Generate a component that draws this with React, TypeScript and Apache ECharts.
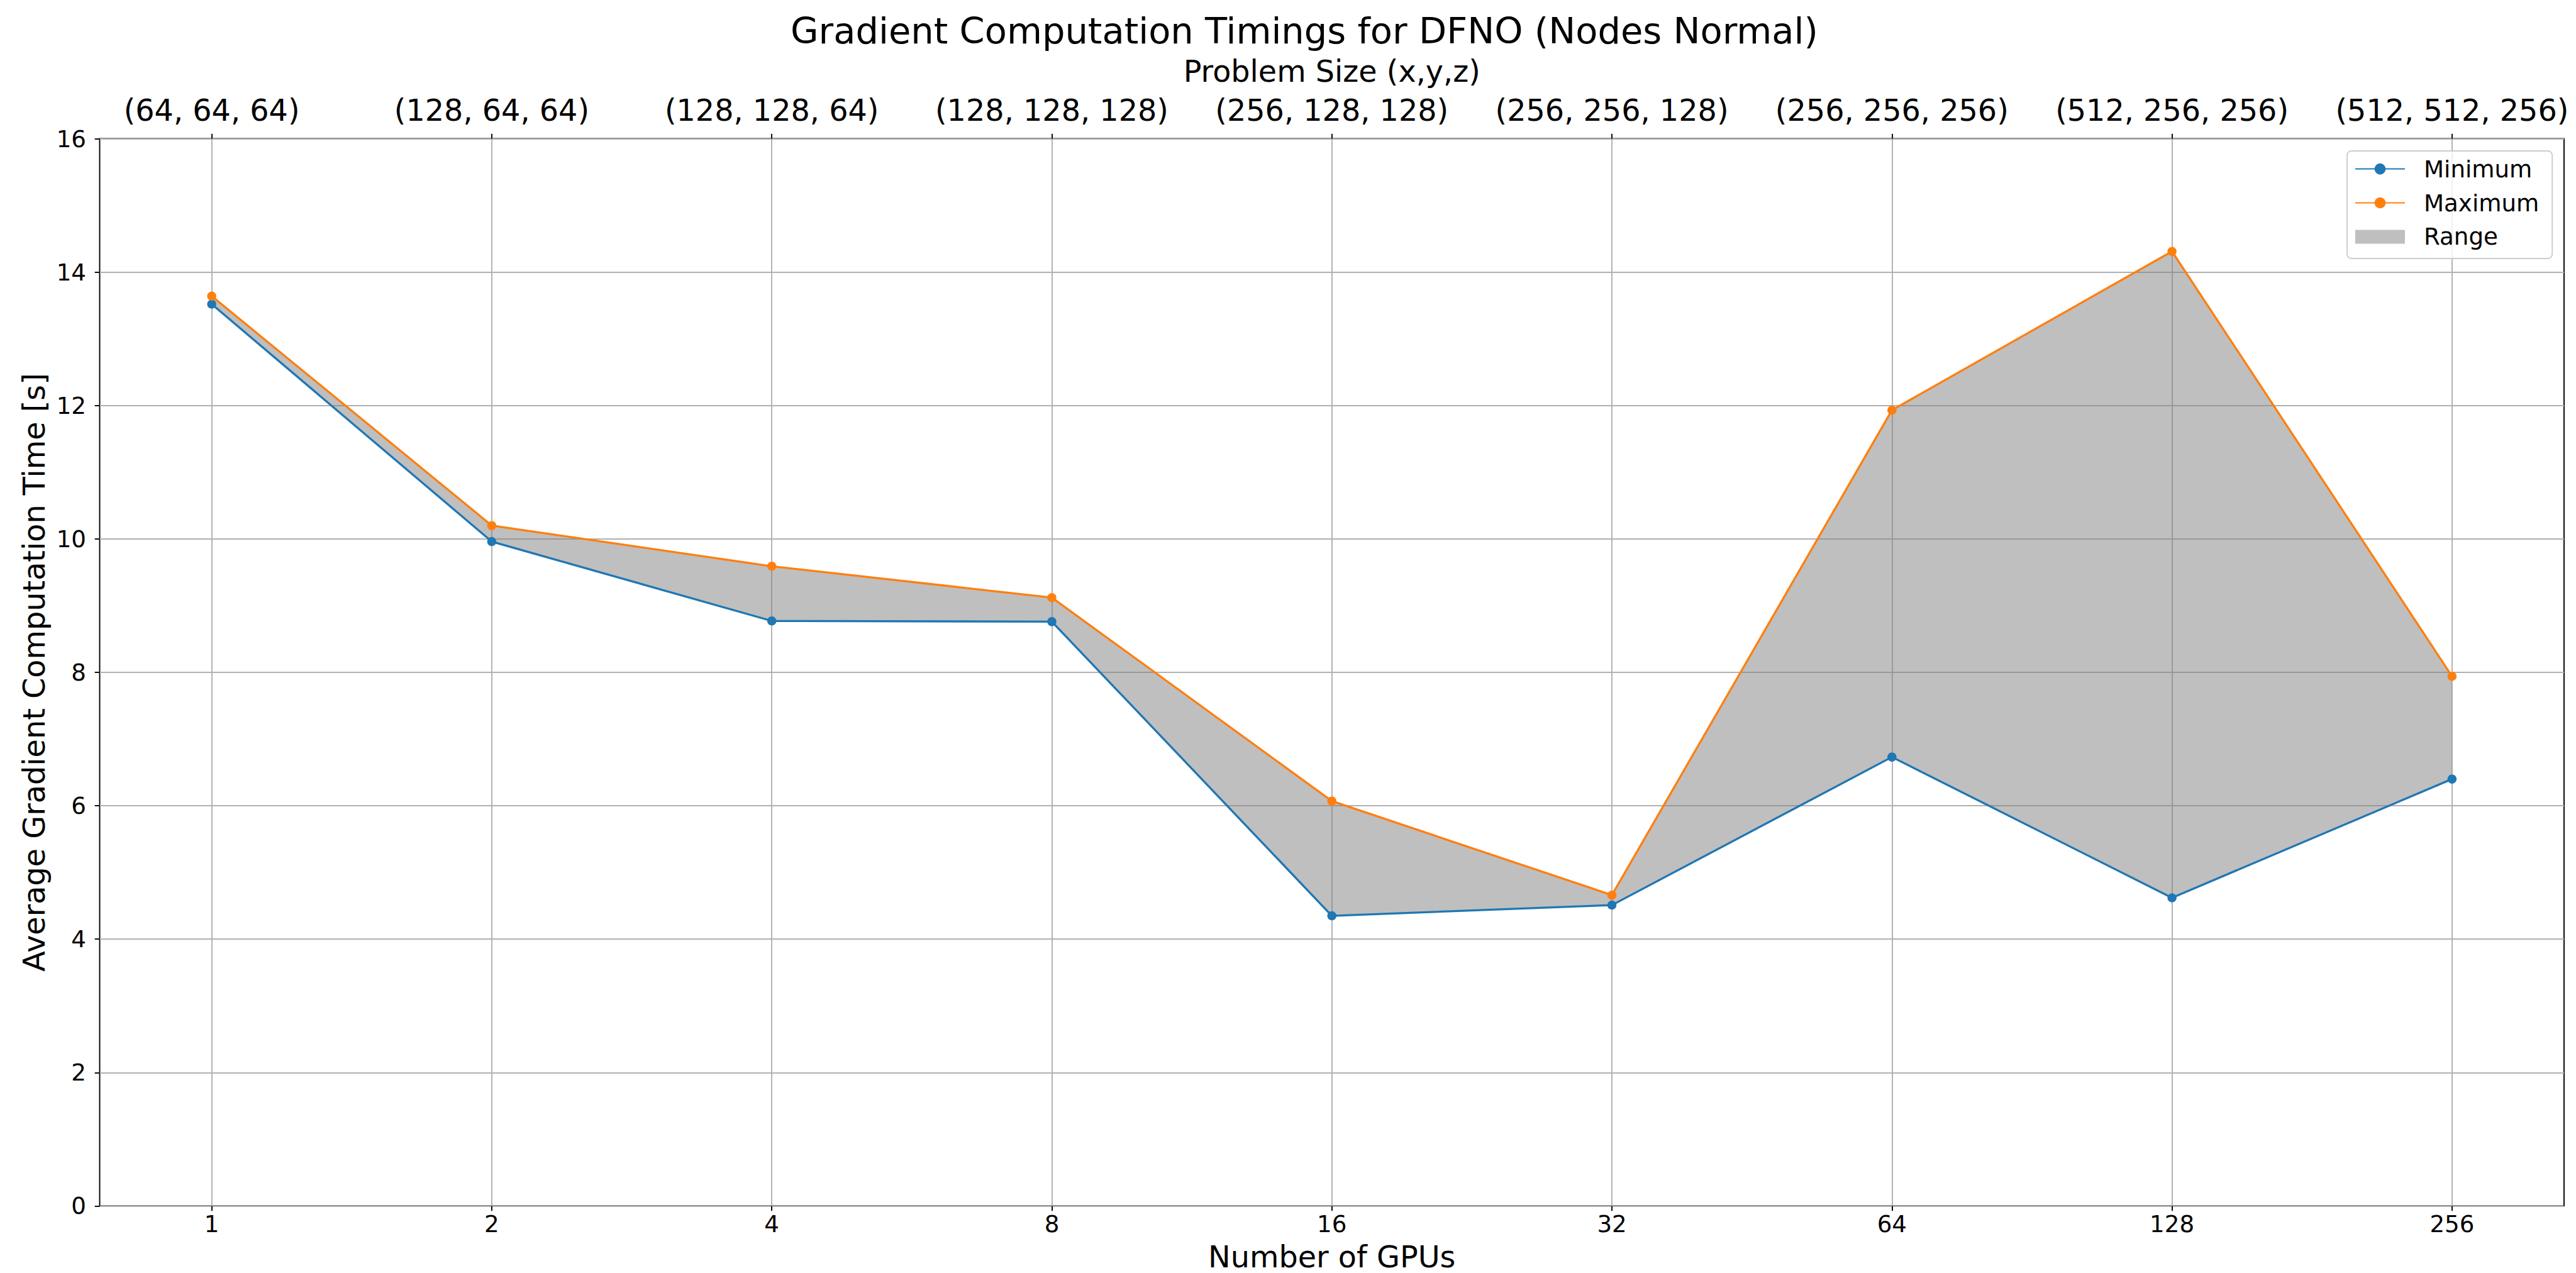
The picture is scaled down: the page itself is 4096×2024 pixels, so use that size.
import React, { useEffect, useRef } from "react";
import * as echarts from "echarts";

// GPU counts on the bottom axis, problem sizes on the top axis
const gpuCounts = [1, 2, 4, 8, 16, 32, 64, 128, 256];
const problemSizes = [
  "(64, 64, 64)",
  "(128, 64, 64)",
  "(128, 128, 64)",
  "(128, 128, 128)",
  "(256, 128, 128)",
  "(256, 256, 128)",
  "(256, 256, 256)",
  "(512, 256, 256)",
  "(512, 512, 256)",
];

// Average gradient computation time [s]
const minTimes = [13.52, 9.96, 8.77, 8.76, 4.35, 4.51, 6.73, 4.62, 6.4];
const maxTimes = [13.64, 10.2, 9.59, 9.12, 6.07, 4.66, 11.93, 14.31, 7.94];

const positions = gpuCounts.map((_, i) => i);

const FONT = "DejaVu Sans";
const BLUE = "#1f77b4";
const ORANGE = "#ff7f0e";
const RANGE_FILL = "rgba(128,128,128,0.5)";
const GRID_COLOR = "#b0b0b0";

const TICK_FONT = 37.2;
const LABEL_FONT = 47.7;
const TITLE_FONT = 57.5;

export default function App() {
  const ref = useRef<HTMLDivElement>(null);

  useEffect(() => {
    if (!ref.current) return;
    const chart = echarts.init(ref.current, null, { renderer: "svg" });

    const tickStyle = { show: true, length: 7.8, lineStyle: { color: "#000", width: 1.9 } };
    const hiddenAxisLine = { show: false, onZero: false };

    chart.setOption({
      animation: false,
      backgroundColor: "#ffffff",
      textStyle: { fontFamily: FONT },
      graphic: [
        {
          type: "text",
          x: 2074,
          y: 49.4,
          style: {
            text: "Gradient Computation Timings for DFNO (Nodes Normal)",
            font: `${TITLE_FONT}px "${FONT}"`,
            fill: "#000",
            textAlign: "center",
            textVerticalAlign: "middle",
          },
        },
      ],
      grid: {
        left: 158.5,
        right: 19,
        top: 220.5,
        bottom: 106.6,
        show: true,
        borderColor: "#000",
        borderWidth: 1.9,
        backgroundColor: "transparent",
        containLabel: false,
        outerBoundsMode: "none",
      },
      legend: {
        orient: "vertical",
        left: 3732,
        top: 240,
        padding: [10, 21, 16, 12],
        itemWidth: 79,
        itemHeight: 22,
        itemGap: 16.7,
        backgroundColor: "rgba(255,255,255,0.8)",
        borderColor: "#cccccc",
        borderWidth: 1.9,
        borderRadius: 7,
        textStyle: {
          fontFamily: FONT,
          fontSize: TICK_FONT,
          lineHeight: TICK_FONT,
          color: "#000",
          padding: [0, 0, 0, 25],
        },
        data: ["Minimum", "Maximum", { name: "Range", icon: "rect" }],
      },
      xAxis: [
        {
          type: "value",
          position: "bottom",
          min: -0.4,
          max: 8.4,
          name: "Number of GPUs",
          nameLocation: "middle",
          nameGap: 60.6,
          nameTextStyle: { fontFamily: FONT, fontSize: LABEL_FONT, lineHeight: 40, color: "#000" },
          axisLine: hiddenAxisLine,
          axisTick: { ...tickStyle, customValues: positions },
          axisLabel: {
            customValues: positions,
            margin: 10.4,
            fontFamily: FONT,
            fontSize: TICK_FONT,
            lineHeight: TICK_FONT,
            color: "#000",
            formatter: (v: number) => String(gpuCounts[Math.round(v)] ?? ""),
          },
          splitLine: { show: true, lineStyle: { color: GRID_COLOR, width: 1.9 } },
        },
        {
          type: "value",
          position: "top",
          min: -0.4,
          max: 8.4,
          name: "Problem Size (x,y,z)",
          nameLocation: "middle",
          nameGap: 83,
          nameTextStyle: { fontFamily: FONT, fontSize: LABEL_FONT, lineHeight: LABEL_FONT, color: "#000" },
          axisLine: hiddenAxisLine,
          axisTick: { ...tickStyle, customValues: positions },
          axisLabel: {
            customValues: positions,
            margin: 21,
            fontFamily: FONT,
            fontSize: LABEL_FONT,
            lineHeight: LABEL_FONT,
            color: "#000",
            formatter: (v: number) => problemSizes[Math.round(v)] ?? "",
          },
          splitLine: { show: false },
        },
      ],
      yAxis: {
        type: "value",
        position: "left",
        min: 0,
        max: 16,
        interval: 2,
        name: "Average Gradient Computation Time [s]",
        nameLocation: "middle",
        nameGap: 76.8,
        nameTextStyle: { fontFamily: FONT, fontSize: LABEL_FONT, lineHeight: LABEL_FONT, color: "#000" },
        axisLine: hiddenAxisLine,
        axisTick: tickStyle,
        axisLabel: {
          margin: 21.5,
          fontFamily: FONT,
          fontSize: TICK_FONT,
          lineHeight: TICK_FONT,
          color: "#000",
        },
        splitLine: { show: true, lineStyle: { color: GRID_COLOR, width: 1.9 } },
      },
      series: [
        {
          name: "Range",
          type: "custom",
          z: 1,
          itemStyle: { color: RANGE_FILL },
          data: positions.map((p, i) => [p, minTimes[i], maxTimes[i]]),
          encode: { x: 0, y: [1, 2] },
          renderItem: (params: any, api: any) => {
            if (params.dataIndex !== 0) return null;
            const upper = maxTimes.map((v, i) => api.coord([positions[i], v]));
            const lower = minTimes.map((v, i) => api.coord([positions[i], v])).reverse();
            return {
              type: "polygon",
              shape: { points: upper.concat(lower) },
              style: { fill: RANGE_FILL },
            };
          },
        },
        {
          name: "Minimum",
          type: "line",
          z: 3,
          data: positions.map((p, i) => [p, minTimes[i]]),
          symbol: "circle",
          symbolSize: 14.5,
          itemStyle: { color: BLUE },
          lineStyle: { color: BLUE, width: 3.3 },
        },
        {
          name: "Maximum",
          type: "line",
          z: 4,
          data: positions.map((p, i) => [p, maxTimes[i]]),
          symbol: "circle",
          symbolSize: 14.5,
          itemStyle: { color: ORANGE },
          lineStyle: { color: ORANGE, width: 3.3 },
        },
      ],
    });

    return () => chart.dispose();
  }, []);

  return (
    <div
      ref={ref}
      style={{ position: "fixed", left: 0, top: 0, width: 4096, height: 2024, background: "#fff" }}
    />
  );
}
